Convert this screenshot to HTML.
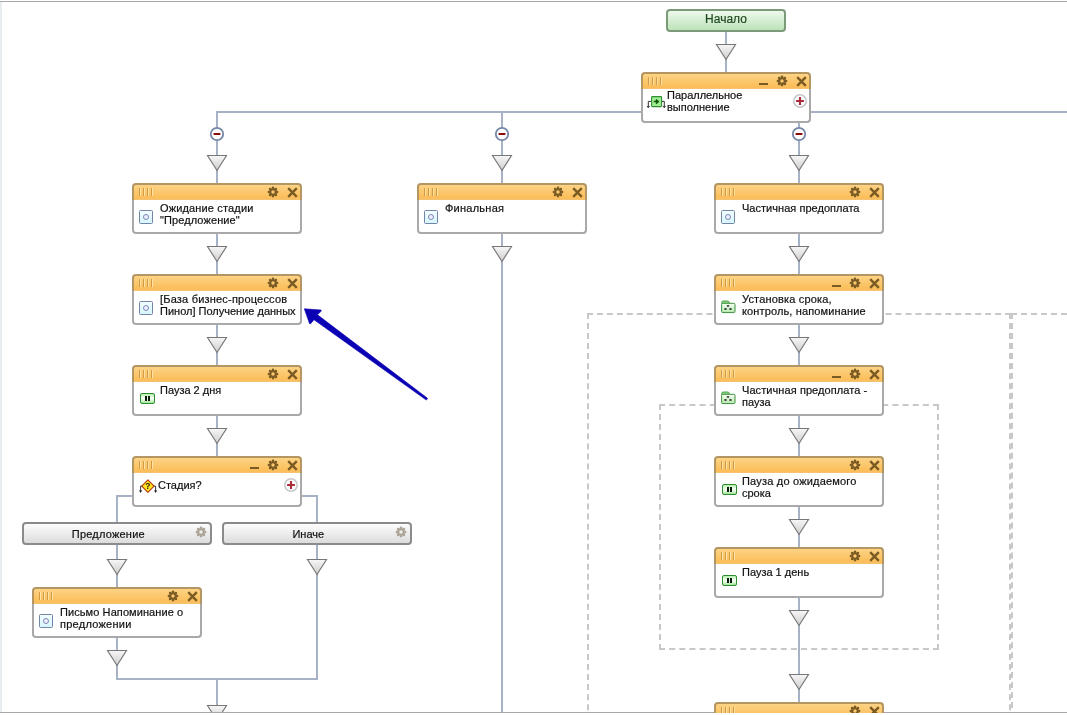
<!DOCTYPE html>
<html><head><meta charset="utf-8"><style>
*{margin:0;padding:0;box-sizing:border-box}
html,body{width:1067px;height:715px;overflow:hidden;background:#fff;position:relative;font-family:"Liberation Sans",sans-serif}
#topline{position:absolute;left:0;top:1px;width:1067px;height:1px;background:#a9a7ab}
#wrap{position:absolute;left:0;top:0;width:1067px;height:713px;overflow:hidden}
#botline{position:absolute;left:0;top:712px;width:1067px;height:1px;background:#a9a7ab;z-index:5}
#start{position:absolute;left:666px;top:9px;width:120px;height:23px;border:2px solid #7b9a78;border-radius:4px;background:linear-gradient(#eef9ec,#bde3b9);color:#1f4a1f;font-size:12px;text-align:center;line-height:17px;will-change:transform;-webkit-text-stroke:0.2px #1f4a1f}
#leftstrip{position:absolute;left:0;top:2px;width:2px;height:710px;background:#e8edf0}
.vl{position:absolute;width:2px;background:#a8b2c7}
.hl{position:absolute;height:2px;background:#a8b2c7}
.tri{position:absolute;overflow:visible}
.ic{position:absolute;overflow:visible}
.blk{position:absolute;z-index:10}
.blk .hdr{position:absolute;left:-1px;top:-1px;width:170px;height:17px;border:2px solid #b49663;border-bottom:none;border-radius:4px 4px 0 0;background:linear-gradient(#fdd385,#fbbd58 88%,#f3c47a)}
.blk .body{position:absolute;left:-1px;top:16px;width:170px;height:34px;border:2px solid #a9a9a9;border-top:none;border-radius:0 0 4px 4px;background:#fff}
.grip{position:absolute;top:4px;width:1px;height:8px;background:#d19a45;box-shadow:1px 0 0 #ffe2a4}
.minz{position:absolute;left:117px;top:10px;width:9px;height:2px;background:#7b5b24}
.iact{position:absolute;left:6px;top:26px;width:14px;height:14px;border:1px solid #7384a6;background:linear-gradient(#f2fdff,#d6f6fd);border-radius:1.5px}
.iact div{position:absolute;left:3px;top:3px;width:6px;height:6px;border:1px solid #8088b4;border-radius:50%;background:#eef0ff}
.ipause{position:absolute;left:7px;top:27px;width:15px;height:11px;border:1px solid #2f8c2f;border-radius:2px;background:linear-gradient(#b4eeac,#f6fff4 45%,#e6fae2 65%,#9ee596)}
.ipause i,.ipause b{position:absolute;top:2px;width:2px;height:5px;background:#0a1a0a}
.ipause i{left:4px} .ipause b{left:7px}
.txt{position:absolute;will-change:transform;-webkit-text-stroke:0.2px #111;font-size:11px;line-height:12px;color:#111;white-space:nowrap}
.btn{position:absolute;width:190px;height:23px;border:2px solid #8b8b8b;border-radius:4px;background:linear-gradient(#fdfdfd,#dcdcdc);font-size:11px;color:#111}
.btn span{position:absolute;will-change:transform;-webkit-text-stroke:0.2px #111;left:0;width:168.6px;top:4px;text-align:center;line-height:12px}
</style></head><body>
<svg width="0" height="0" style="position:absolute"><defs><linearGradient id="tg" x1="0" y1="0" x2="0" y2="1"><stop offset="0" stop-color="#f7f7f7"/><stop offset="1" stop-color="#cdcdcd"/></linearGradient></defs></svg>
<div id="wrap"><div id="start">Начало</div><div id="topline"></div><div id="botline"></div><div id="leftstrip"></div><svg class="ic" style="left:0;top:0" width="1067" height="715"><path fill="#c8c8c8" d="M587.00 313h6v2h-6zM596.95 313h6v2h-6zM606.90 313h6v2h-6zM616.86 313h6v2h-6zM626.81 313h6v2h-6zM636.76 313h6v2h-6zM646.71 313h6v2h-6zM656.67 313h6v2h-6zM666.62 313h6v2h-6zM676.57 313h6v2h-6zM686.52 313h6v2h-6zM696.48 313h6v2h-6zM706.43 313h6v2h-6zM716.38 313h6v2h-6zM726.33 313h6v2h-6zM736.29 313h6v2h-6zM746.24 313h6v2h-6zM756.19 313h6v2h-6zM766.14 313h6v2h-6zM776.10 313h6v2h-6zM786.05 313h6v2h-6zM796.00 313h6v2h-6zM805.95 313h6v2h-6zM815.90 313h6v2h-6zM825.86 313h6v2h-6zM835.81 313h6v2h-6zM845.76 313h6v2h-6zM855.71 313h6v2h-6zM865.67 313h6v2h-6zM875.62 313h6v2h-6zM885.57 313h6v2h-6zM895.52 313h6v2h-6zM905.48 313h6v2h-6zM915.43 313h6v2h-6zM925.38 313h6v2h-6zM935.33 313h6v2h-6zM945.29 313h6v2h-6zM955.24 313h6v2h-6zM965.19 313h6v2h-6zM975.14 313h6v2h-6zM985.10 313h6v2h-6zM995.05 313h6v2h-6zM1005.00 313h6v2h-6zM587 313.00h2v6h-2zM587 323.03h2v6h-2zM587 333.06h2v6h-2zM587 343.09h2v6h-2zM587 353.12h2v6h-2zM587 363.15h2v6h-2zM587 373.18h2v6h-2zM587 383.21h2v6h-2zM587 393.24h2v6h-2zM587 403.27h2v6h-2zM587 413.30h2v6h-2zM587 423.33h2v6h-2zM587 433.36h2v6h-2zM587 443.39h2v6h-2zM587 453.42h2v6h-2zM587 463.45h2v6h-2zM587 473.48h2v6h-2zM587 483.51h2v6h-2zM587 493.54h2v6h-2zM587 503.57h2v6h-2zM587 513.60h2v6h-2zM587 523.63h2v6h-2zM587 533.66h2v6h-2zM587 543.69h2v6h-2zM587 553.72h2v6h-2zM587 563.75h2v6h-2zM587 573.78h2v6h-2zM587 583.81h2v6h-2zM587 593.84h2v6h-2zM587 603.87h2v6h-2zM587 613.90h2v6h-2zM587 623.93h2v6h-2zM587 633.96h2v6h-2zM587 643.99h2v6h-2zM587 654.02h2v6h-2zM587 664.05h2v6h-2zM587 674.08h2v6h-2zM587 684.11h2v6h-2zM587 694.14h2v6h-2zM587 704.17h2v6h-2zM587 714.20h2v6h-2zM1009 313.00h2v6h-2zM1009 323.03h2v6h-2zM1009 333.06h2v6h-2zM1009 343.09h2v6h-2zM1009 353.12h2v6h-2zM1009 363.15h2v6h-2zM1009 373.18h2v6h-2zM1009 383.21h2v6h-2zM1009 393.24h2v6h-2zM1009 403.27h2v6h-2zM1009 413.30h2v6h-2zM1009 423.33h2v6h-2zM1009 433.36h2v6h-2zM1009 443.39h2v6h-2zM1009 453.42h2v6h-2zM1009 463.45h2v6h-2zM1009 473.48h2v6h-2zM1009 483.51h2v6h-2zM1009 493.54h2v6h-2zM1009 503.57h2v6h-2zM1009 513.60h2v6h-2zM1009 523.63h2v6h-2zM1009 533.66h2v6h-2zM1009 543.69h2v6h-2zM1009 553.72h2v6h-2zM1009 563.75h2v6h-2zM1009 573.78h2v6h-2zM1009 583.81h2v6h-2zM1009 593.84h2v6h-2zM1009 603.87h2v6h-2zM1009 613.90h2v6h-2zM1009 623.93h2v6h-2zM1009 633.96h2v6h-2zM1009 643.99h2v6h-2zM1009 654.02h2v6h-2zM1009 664.05h2v6h-2zM1009 674.08h2v6h-2zM1009 684.11h2v6h-2zM1009 694.14h2v6h-2zM1009 704.17h2v6h-2zM1009 714.20h2v6h-2zM1011 313.00h2v6h-2zM1011 322.98h2v6h-2zM1011 332.95h2v6h-2zM1011 342.93h2v6h-2zM1011 352.90h2v6h-2zM1011 362.88h2v6h-2zM1011 372.85h2v6h-2zM1011 382.82h2v6h-2zM1011 392.80h2v6h-2zM1011 402.77h2v6h-2zM1011 412.75h2v6h-2zM1011 422.73h2v6h-2zM1011 432.70h2v6h-2zM1011 442.67h2v6h-2zM1011 452.65h2v6h-2zM1011 462.62h2v6h-2zM1011 472.60h2v6h-2zM1011 482.57h2v6h-2zM1011 492.55h2v6h-2zM1011 502.52h2v6h-2zM1011 512.50h2v6h-2zM1011 522.48h2v6h-2zM1011 532.45h2v6h-2zM1011 542.42h2v6h-2zM1011 552.40h2v6h-2zM1011 562.38h2v6h-2zM1011 572.35h2v6h-2zM1011 582.33h2v6h-2zM1011 592.30h2v6h-2zM1011 602.27h2v6h-2zM1011 612.25h2v6h-2zM1011 622.22h2v6h-2zM1011 632.20h2v6h-2zM1011 642.17h2v6h-2zM1011 652.15h2v6h-2zM1011 662.12h2v6h-2zM1011 672.10h2v6h-2zM1011 682.08h2v6h-2zM1011 692.05h2v6h-2zM1011 702.02h2v6h-2zM1011 712.00h2v6h-2zM1011 313h6v2h-6zM1021 313h6v2h-6zM1031 313h6v2h-6zM1041 313h6v2h-6zM1051 313h6v2h-6zM1061 313h6v2h-6zM659.00 404h6v2h-6zM669.15 404h6v2h-6zM679.30 404h6v2h-6zM689.44 404h6v2h-6zM699.59 404h6v2h-6zM709.74 404h6v2h-6zM719.89 404h6v2h-6zM730.04 404h6v2h-6zM740.19 404h6v2h-6zM750.33 404h6v2h-6zM760.48 404h6v2h-6zM770.63 404h6v2h-6zM780.78 404h6v2h-6zM790.93 404h6v2h-6zM801.07 404h6v2h-6zM811.22 404h6v2h-6zM821.37 404h6v2h-6zM831.52 404h6v2h-6zM841.67 404h6v2h-6zM851.81 404h6v2h-6zM861.96 404h6v2h-6zM872.11 404h6v2h-6zM882.26 404h6v2h-6zM892.41 404h6v2h-6zM902.56 404h6v2h-6zM912.70 404h6v2h-6zM922.85 404h6v2h-6zM933.00 404h6v2h-6zM659.00 648h6v2h-6zM669.15 648h6v2h-6zM679.30 648h6v2h-6zM689.44 648h6v2h-6zM699.59 648h6v2h-6zM709.74 648h6v2h-6zM719.89 648h6v2h-6zM730.04 648h6v2h-6zM740.19 648h6v2h-6zM750.33 648h6v2h-6zM760.48 648h6v2h-6zM770.63 648h6v2h-6zM780.78 648h6v2h-6zM790.93 648h6v2h-6zM801.07 648h6v2h-6zM811.22 648h6v2h-6zM821.37 648h6v2h-6zM831.52 648h6v2h-6zM841.67 648h6v2h-6zM851.81 648h6v2h-6zM861.96 648h6v2h-6zM872.11 648h6v2h-6zM882.26 648h6v2h-6zM892.41 648h6v2h-6zM902.56 648h6v2h-6zM912.70 648h6v2h-6zM922.85 648h6v2h-6zM933.00 648h6v2h-6zM659 404.00h2v6h-2zM659 414.00h2v6h-2zM659 424.00h2v6h-2zM659 434.00h2v6h-2zM659 444.00h2v6h-2zM659 454.00h2v6h-2zM659 464.00h2v6h-2zM659 474.00h2v6h-2zM659 484.00h2v6h-2zM659 494.00h2v6h-2zM659 504.00h2v6h-2zM659 514.00h2v6h-2zM659 524.00h2v6h-2zM659 534.00h2v6h-2zM659 544.00h2v6h-2zM659 554.00h2v6h-2zM659 564.00h2v6h-2zM659 574.00h2v6h-2zM659 584.00h2v6h-2zM659 594.00h2v6h-2zM659 604.00h2v6h-2zM659 614.00h2v6h-2zM659 624.00h2v6h-2zM659 634.00h2v6h-2zM659 644.00h2v6h-2zM937 404.00h2v6h-2zM937 414.00h2v6h-2zM937 424.00h2v6h-2zM937 434.00h2v6h-2zM937 444.00h2v6h-2zM937 454.00h2v6h-2zM937 464.00h2v6h-2zM937 474.00h2v6h-2zM937 484.00h2v6h-2zM937 494.00h2v6h-2zM937 504.00h2v6h-2zM937 514.00h2v6h-2zM937 524.00h2v6h-2zM937 534.00h2v6h-2zM937 544.00h2v6h-2zM937 554.00h2v6h-2zM937 564.00h2v6h-2zM937 574.00h2v6h-2zM937 584.00h2v6h-2zM937 594.00h2v6h-2zM937 604.00h2v6h-2zM937 614.00h2v6h-2zM937 624.00h2v6h-2zM937 634.00h2v6h-2zM937 644.00h2v6h-2z"/></svg><div class="vl" style="left:725px;top:32px;height:41px"></div><div class="hl" style="top:111px;left:216px;width:851px"></div><div class="vl" style="left:216px;top:111px;height:73px"></div><div class="vl" style="left:501px;top:111px;height:73px"></div><div class="vl" style="left:798px;top:122px;height:62px"></div><div class="vl" style="left:216px;top:233px;height:42px"></div><div class="vl" style="left:216px;top:324px;height:42px"></div><div class="vl" style="left:216px;top:415px;height:42px"></div><div class="hl" style="top:495px;left:116px;width:17px"></div><div class="hl" style="top:495px;left:301px;width:17px"></div><div class="vl" style="left:116px;top:495px;height:28px"></div><div class="vl" style="left:316px;top:495px;height:28px"></div><div class="vl" style="left:116px;top:544px;height:44px"></div><div class="vl" style="left:116px;top:636px;height:43px"></div><div class="vl" style="left:316px;top:544px;height:135px"></div><div class="hl" style="top:678px;left:116px;width:202px"></div><div class="vl" style="left:216px;top:679px;height:33px"></div><div class="vl" style="left:501px;top:233px;height:479px"></div><div class="vl" style="left:798px;top:233px;height:42px"></div><div class="vl" style="left:798px;top:324px;height:42px"></div><div class="vl" style="left:798px;top:415px;height:42px"></div><div class="vl" style="left:798px;top:506px;height:42px"></div><div class="vl" style="left:798px;top:597px;height:106px"></div><svg class="tri" style="left:715px;top:43px" width="22" height="18" viewBox="0 0 22 18"><path d="M1.5 1.5 L20.5 1.5 L11 16.5 Z" fill="url(#tg)" stroke="#777" stroke-width="1.15" stroke-linejoin="miter"/></svg><svg class="tri" style="left:206px;top:154px" width="22" height="18" viewBox="0 0 22 18"><path d="M1.5 1.5 L20.5 1.5 L11 16.5 Z" fill="url(#tg)" stroke="#777" stroke-width="1.15" stroke-linejoin="miter"/></svg><svg class="tri" style="left:491px;top:154px" width="22" height="18" viewBox="0 0 22 18"><path d="M1.5 1.5 L20.5 1.5 L11 16.5 Z" fill="url(#tg)" stroke="#777" stroke-width="1.15" stroke-linejoin="miter"/></svg><svg class="tri" style="left:788px;top:154px" width="22" height="18" viewBox="0 0 22 18"><path d="M1.5 1.5 L20.5 1.5 L11 16.5 Z" fill="url(#tg)" stroke="#777" stroke-width="1.15" stroke-linejoin="miter"/></svg><svg class="tri" style="left:206px;top:245px" width="22" height="18" viewBox="0 0 22 18"><path d="M1.5 1.5 L20.5 1.5 L11 16.5 Z" fill="url(#tg)" stroke="#777" stroke-width="1.15" stroke-linejoin="miter"/></svg><svg class="tri" style="left:206px;top:336px" width="22" height="18" viewBox="0 0 22 18"><path d="M1.5 1.5 L20.5 1.5 L11 16.5 Z" fill="url(#tg)" stroke="#777" stroke-width="1.15" stroke-linejoin="miter"/></svg><svg class="tri" style="left:206px;top:427px" width="22" height="18" viewBox="0 0 22 18"><path d="M1.5 1.5 L20.5 1.5 L11 16.5 Z" fill="url(#tg)" stroke="#777" stroke-width="1.15" stroke-linejoin="miter"/></svg><svg class="tri" style="left:106px;top:558px" width="22" height="18" viewBox="0 0 22 18"><path d="M1.5 1.5 L20.5 1.5 L11 16.5 Z" fill="url(#tg)" stroke="#777" stroke-width="1.15" stroke-linejoin="miter"/></svg><svg class="tri" style="left:306px;top:558px" width="22" height="18" viewBox="0 0 22 18"><path d="M1.5 1.5 L20.5 1.5 L11 16.5 Z" fill="url(#tg)" stroke="#777" stroke-width="1.15" stroke-linejoin="miter"/></svg><svg class="tri" style="left:106px;top:649px" width="22" height="18" viewBox="0 0 22 18"><path d="M1.5 1.5 L20.5 1.5 L11 16.5 Z" fill="url(#tg)" stroke="#777" stroke-width="1.15" stroke-linejoin="miter"/></svg><svg class="tri" style="left:206px;top:704px" width="22" height="18" viewBox="0 0 22 18"><path d="M1.5 1.5 L20.5 1.5 L11 16.5 Z" fill="url(#tg)" stroke="#777" stroke-width="1.15" stroke-linejoin="miter"/></svg><svg class="tri" style="left:491px;top:245px" width="22" height="18" viewBox="0 0 22 18"><path d="M1.5 1.5 L20.5 1.5 L11 16.5 Z" fill="url(#tg)" stroke="#777" stroke-width="1.15" stroke-linejoin="miter"/></svg><svg class="tri" style="left:788px;top:245px" width="22" height="18" viewBox="0 0 22 18"><path d="M1.5 1.5 L20.5 1.5 L11 16.5 Z" fill="url(#tg)" stroke="#777" stroke-width="1.15" stroke-linejoin="miter"/></svg><svg class="tri" style="left:788px;top:336px" width="22" height="18" viewBox="0 0 22 18"><path d="M1.5 1.5 L20.5 1.5 L11 16.5 Z" fill="url(#tg)" stroke="#777" stroke-width="1.15" stroke-linejoin="miter"/></svg><svg class="tri" style="left:788px;top:427px" width="22" height="18" viewBox="0 0 22 18"><path d="M1.5 1.5 L20.5 1.5 L11 16.5 Z" fill="url(#tg)" stroke="#777" stroke-width="1.15" stroke-linejoin="miter"/></svg><svg class="tri" style="left:788px;top:518px" width="22" height="18" viewBox="0 0 22 18"><path d="M1.5 1.5 L20.5 1.5 L11 16.5 Z" fill="url(#tg)" stroke="#777" stroke-width="1.15" stroke-linejoin="miter"/></svg><svg class="tri" style="left:788px;top:609px" width="22" height="18" viewBox="0 0 22 18"><path d="M1.5 1.5 L20.5 1.5 L11 16.5 Z" fill="url(#tg)" stroke="#777" stroke-width="1.15" stroke-linejoin="miter"/></svg><svg class="tri" style="left:788px;top:673px" width="22" height="18" viewBox="0 0 22 18"><path d="M1.5 1.5 L20.5 1.5 L11 16.5 Z" fill="url(#tg)" stroke="#777" stroke-width="1.15" stroke-linejoin="miter"/></svg><svg class="ic" style="left:209px;top:126px" width="16" height="16" viewBox="0 0 16 16"><circle cx="8" cy="8" r="6.2" fill="#fff" stroke="#7787a8" stroke-width="1.8"/><rect x="4.6" y="7" width="6.8" height="2" fill="#8a0a0a"/></svg><svg class="ic" style="left:494px;top:126px" width="16" height="16" viewBox="0 0 16 16"><circle cx="8" cy="8" r="6.2" fill="#fff" stroke="#7787a8" stroke-width="1.8"/><rect x="4.6" y="7" width="6.8" height="2" fill="#8a0a0a"/></svg><svg class="ic" style="left:791px;top:126px" width="16" height="16" viewBox="0 0 16 16"><circle cx="8" cy="8" r="6.2" fill="#fff" stroke="#7787a8" stroke-width="1.8"/><rect x="4.6" y="7" width="6.8" height="2" fill="#8a0a0a"/></svg><div class="blk" style="left:642px;top:73px;width:169px;height:49px"><div class="hdr"></div><div class="body"></div><div class="grip" style="left:6px"></div><div class="grip" style="left:10px"></div><div class="grip" style="left:14px"></div><div class="grip" style="left:18px"></div><div class="minz"></div><svg class="ic" style="left:134px;top:2px" width="12" height="12" viewBox="0 0 12 12"><g fill="#7b5b24"><circle cx="6" cy="6" r="3.8"/><circle cx="10.10" cy="6.00" r="1.3"/><circle cx="8.90" cy="8.90" r="1.3"/><circle cx="6.00" cy="10.10" r="1.3"/><circle cx="3.10" cy="8.90" r="1.3"/><circle cx="1.90" cy="6.00" r="1.3"/><circle cx="3.10" cy="3.10" r="1.3"/><circle cx="6.00" cy="1.90" r="1.3"/><circle cx="8.90" cy="3.10" r="1.3"/></g><circle cx="6" cy="6" r="1.7" fill="#fdc86e"/></svg><svg class="ic" style="left:154px;top:3px" width="11" height="11" viewBox="0 0 11 11"><path d="M1.2 1.2 L9.8 9.8 M9.8 1.2 L1.2 9.8" stroke="#7b5b24" stroke-width="2.4"/></svg><svg class="ic" style="left:150px;top:20px" width="16" height="16" viewBox="0 0 16 16"><circle cx="8" cy="8" r="6.2" fill="#fcfeff" stroke="#c6c6c6" stroke-width="1.5"/><path d="M4.1 8 H11.9 M8 4.1 V11.9" stroke="#ab2c38" stroke-width="2.1"/></svg><svg class="ic" style="left:4px;top:21px" width="22" height="16" viewBox="0 0 22 16"><path d="M5.2 7.4 H2.3 V13 M16 7.4 H18.3 V13" fill="none" stroke="#333" stroke-width="1"/><path d="M1.1 12 L2.3 13.8 L3.5 12 M17.1 12 L18.3 13.8 L19.5 12" fill="none" stroke="#333" stroke-width="1"/><rect x="5.6" y="2.6" width="10" height="10" rx="0.8" fill="#a2ec92" stroke="#2f8f2f" stroke-width="1.1"/><path d="M7.8 7.6 H12 M10 5.6 L12.2 7.6 L10 9.6" fill="none" stroke="#0a5a0a" stroke-width="1.5"/></svg><div class="txt" style="left:25px;top:16.3px">Параллельное<br>выполнение</div></div><div class="blk" style="left:133px;top:184px;width:169px;height:49px"><div class="hdr"></div><div class="body"></div><div class="grip" style="left:6px"></div><div class="grip" style="left:10px"></div><div class="grip" style="left:14px"></div><div class="grip" style="left:18px"></div><svg class="ic" style="left:134px;top:2px" width="12" height="12" viewBox="0 0 12 12"><g fill="#7b5b24"><circle cx="6" cy="6" r="3.8"/><circle cx="10.10" cy="6.00" r="1.3"/><circle cx="8.90" cy="8.90" r="1.3"/><circle cx="6.00" cy="10.10" r="1.3"/><circle cx="3.10" cy="8.90" r="1.3"/><circle cx="1.90" cy="6.00" r="1.3"/><circle cx="3.10" cy="3.10" r="1.3"/><circle cx="6.00" cy="1.90" r="1.3"/><circle cx="8.90" cy="3.10" r="1.3"/></g><circle cx="6" cy="6" r="1.7" fill="#fdc86e"/></svg><svg class="ic" style="left:154px;top:3px" width="11" height="11" viewBox="0 0 11 11"><path d="M1.2 1.2 L9.8 9.8 M9.8 1.2 L1.2 9.8" stroke="#7b5b24" stroke-width="2.4"/></svg><div class="iact"><div></div></div><div class="txt" style="left:27px;top:18.3px"><span style="letter-spacing:0.15px">Ожидание стадии</span><br><span style="letter-spacing:0.1px">"Предложение"</span></div></div><div class="blk" style="left:133px;top:275px;width:169px;height:49px"><div class="hdr"></div><div class="body"></div><div class="grip" style="left:6px"></div><div class="grip" style="left:10px"></div><div class="grip" style="left:14px"></div><div class="grip" style="left:18px"></div><svg class="ic" style="left:134px;top:2px" width="12" height="12" viewBox="0 0 12 12"><g fill="#7b5b24"><circle cx="6" cy="6" r="3.8"/><circle cx="10.10" cy="6.00" r="1.3"/><circle cx="8.90" cy="8.90" r="1.3"/><circle cx="6.00" cy="10.10" r="1.3"/><circle cx="3.10" cy="8.90" r="1.3"/><circle cx="1.90" cy="6.00" r="1.3"/><circle cx="3.10" cy="3.10" r="1.3"/><circle cx="6.00" cy="1.90" r="1.3"/><circle cx="8.90" cy="3.10" r="1.3"/></g><circle cx="6" cy="6" r="1.7" fill="#fdc86e"/></svg><svg class="ic" style="left:154px;top:3px" width="11" height="11" viewBox="0 0 11 11"><path d="M1.2 1.2 L9.8 9.8 M9.8 1.2 L1.2 9.8" stroke="#7b5b24" stroke-width="2.4"/></svg><div class="iact"><div></div></div><div class="txt" style="left:27px;top:18.3px"><span style="letter-spacing:0.2px">[База бизнес-процессов</span><br>Пинол] Получение данных</div></div><div class="blk" style="left:133px;top:366px;width:169px;height:49px"><div class="hdr"></div><div class="body"></div><div class="grip" style="left:6px"></div><div class="grip" style="left:10px"></div><div class="grip" style="left:14px"></div><div class="grip" style="left:18px"></div><svg class="ic" style="left:134px;top:2px" width="12" height="12" viewBox="0 0 12 12"><g fill="#7b5b24"><circle cx="6" cy="6" r="3.8"/><circle cx="10.10" cy="6.00" r="1.3"/><circle cx="8.90" cy="8.90" r="1.3"/><circle cx="6.00" cy="10.10" r="1.3"/><circle cx="3.10" cy="8.90" r="1.3"/><circle cx="1.90" cy="6.00" r="1.3"/><circle cx="3.10" cy="3.10" r="1.3"/><circle cx="6.00" cy="1.90" r="1.3"/><circle cx="8.90" cy="3.10" r="1.3"/></g><circle cx="6" cy="6" r="1.7" fill="#fdc86e"/></svg><svg class="ic" style="left:154px;top:3px" width="11" height="11" viewBox="0 0 11 11"><path d="M1.2 1.2 L9.8 9.8 M9.8 1.2 L1.2 9.8" stroke="#7b5b24" stroke-width="2.4"/></svg><div class="ipause"><i></i><b></b></div><div class="txt" style="left:27px;top:18.3px">Пауза 2 дня</div></div><div class="blk" style="left:133px;top:457px;width:169px;height:49px"><div class="hdr"></div><div class="body"></div><div class="grip" style="left:6px"></div><div class="grip" style="left:10px"></div><div class="grip" style="left:14px"></div><div class="grip" style="left:18px"></div><div class="minz"></div><svg class="ic" style="left:134px;top:2px" width="12" height="12" viewBox="0 0 12 12"><g fill="#7b5b24"><circle cx="6" cy="6" r="3.8"/><circle cx="10.10" cy="6.00" r="1.3"/><circle cx="8.90" cy="8.90" r="1.3"/><circle cx="6.00" cy="10.10" r="1.3"/><circle cx="3.10" cy="8.90" r="1.3"/><circle cx="1.90" cy="6.00" r="1.3"/><circle cx="3.10" cy="3.10" r="1.3"/><circle cx="6.00" cy="1.90" r="1.3"/><circle cx="8.90" cy="3.10" r="1.3"/></g><circle cx="6" cy="6" r="1.7" fill="#fdc86e"/></svg><svg class="ic" style="left:154px;top:3px" width="11" height="11" viewBox="0 0 11 11"><path d="M1.2 1.2 L9.8 9.8 M9.8 1.2 L1.2 9.8" stroke="#7b5b24" stroke-width="2.4"/></svg><svg class="ic" style="left:150px;top:20px" width="16" height="16" viewBox="0 0 16 16"><circle cx="8" cy="8" r="6.2" fill="#fcfeff" stroke="#c6c6c6" stroke-width="1.5"/><path d="M4.1 8 H11.9 M8 4.1 V11.9" stroke="#ab2c38" stroke-width="2.1"/></svg><svg class="ic" style="left:5px;top:21px" width="20" height="17" viewBox="0 0 20 17"><path d="M4.5 8.1 H2.6 V14 M15.5 8.1 H17.6 V14" fill="none" stroke="#222" stroke-width="0.9"/><path d="M1.5 12.6 L2.6 14.6 L3.7 12.6 Z M16.5 12.6 L17.6 14.6 L18.7 12.6 Z" fill="#222" stroke="#222" stroke-width="0.5"/><path d="M9.9 1.8 L16.1 8.1 L9.9 14.4 L3.7 8.1 Z" fill="#ffe21e" stroke="#b03a10" stroke-width="1.1" stroke-linejoin="round"/><text x="9.9" y="11.4" font-family="Liberation Sans" font-size="8.5" font-weight="bold" text-anchor="middle" fill="#1a1a1a">?</text></svg><div class="txt" style="left:25.4px;top:22.2px">Стадия?</div></div><div class="blk" style="left:33px;top:588px;width:169px;height:49px"><div class="hdr"></div><div class="body"></div><div class="grip" style="left:6px"></div><div class="grip" style="left:10px"></div><div class="grip" style="left:14px"></div><div class="grip" style="left:18px"></div><svg class="ic" style="left:134px;top:2px" width="12" height="12" viewBox="0 0 12 12"><g fill="#7b5b24"><circle cx="6" cy="6" r="3.8"/><circle cx="10.10" cy="6.00" r="1.3"/><circle cx="8.90" cy="8.90" r="1.3"/><circle cx="6.00" cy="10.10" r="1.3"/><circle cx="3.10" cy="8.90" r="1.3"/><circle cx="1.90" cy="6.00" r="1.3"/><circle cx="3.10" cy="3.10" r="1.3"/><circle cx="6.00" cy="1.90" r="1.3"/><circle cx="8.90" cy="3.10" r="1.3"/></g><circle cx="6" cy="6" r="1.7" fill="#fdc86e"/></svg><svg class="ic" style="left:154px;top:3px" width="11" height="11" viewBox="0 0 11 11"><path d="M1.2 1.2 L9.8 9.8 M9.8 1.2 L1.2 9.8" stroke="#7b5b24" stroke-width="2.4"/></svg><div class="iact"><div></div></div><div class="txt" style="left:27px;top:18.3px"><span style="letter-spacing:0.084px">Письмо Напоминание о</span><br><span style="letter-spacing:0.26px">предложении</span></div></div><div class="blk" style="left:418px;top:184px;width:169px;height:49px"><div class="hdr"></div><div class="body"></div><div class="grip" style="left:6px"></div><div class="grip" style="left:10px"></div><div class="grip" style="left:14px"></div><div class="grip" style="left:18px"></div><svg class="ic" style="left:134px;top:2px" width="12" height="12" viewBox="0 0 12 12"><g fill="#7b5b24"><circle cx="6" cy="6" r="3.8"/><circle cx="10.10" cy="6.00" r="1.3"/><circle cx="8.90" cy="8.90" r="1.3"/><circle cx="6.00" cy="10.10" r="1.3"/><circle cx="3.10" cy="8.90" r="1.3"/><circle cx="1.90" cy="6.00" r="1.3"/><circle cx="3.10" cy="3.10" r="1.3"/><circle cx="6.00" cy="1.90" r="1.3"/><circle cx="8.90" cy="3.10" r="1.3"/></g><circle cx="6" cy="6" r="1.7" fill="#fdc86e"/></svg><svg class="ic" style="left:154px;top:3px" width="11" height="11" viewBox="0 0 11 11"><path d="M1.2 1.2 L9.8 9.8 M9.8 1.2 L1.2 9.8" stroke="#7b5b24" stroke-width="2.4"/></svg><div class="iact"><div></div></div><div class="txt" style="left:27px;top:18.3px"><span style="letter-spacing:0.25px">Финальная</span></div></div><div class="blk" style="left:715px;top:184px;width:169px;height:49px"><div class="hdr"></div><div class="body"></div><div class="grip" style="left:6px"></div><div class="grip" style="left:10px"></div><div class="grip" style="left:14px"></div><div class="grip" style="left:18px"></div><svg class="ic" style="left:134px;top:2px" width="12" height="12" viewBox="0 0 12 12"><g fill="#7b5b24"><circle cx="6" cy="6" r="3.8"/><circle cx="10.10" cy="6.00" r="1.3"/><circle cx="8.90" cy="8.90" r="1.3"/><circle cx="6.00" cy="10.10" r="1.3"/><circle cx="3.10" cy="8.90" r="1.3"/><circle cx="1.90" cy="6.00" r="1.3"/><circle cx="3.10" cy="3.10" r="1.3"/><circle cx="6.00" cy="1.90" r="1.3"/><circle cx="8.90" cy="3.10" r="1.3"/></g><circle cx="6" cy="6" r="1.7" fill="#fdc86e"/></svg><svg class="ic" style="left:154px;top:3px" width="11" height="11" viewBox="0 0 11 11"><path d="M1.2 1.2 L9.8 9.8 M9.8 1.2 L1.2 9.8" stroke="#7b5b24" stroke-width="2.4"/></svg><div class="iact"><div></div></div><div class="txt" style="left:27px;top:18.3px"><span style="letter-spacing:0.032px">Частичная предоплата</span></div></div><div class="blk" style="left:715px;top:275px;width:169px;height:49px"><div class="hdr"></div><div class="body"></div><div class="grip" style="left:6px"></div><div class="grip" style="left:10px"></div><div class="grip" style="left:14px"></div><div class="grip" style="left:18px"></div><div class="minz"></div><svg class="ic" style="left:134px;top:2px" width="12" height="12" viewBox="0 0 12 12"><g fill="#7b5b24"><circle cx="6" cy="6" r="3.8"/><circle cx="10.10" cy="6.00" r="1.3"/><circle cx="8.90" cy="8.90" r="1.3"/><circle cx="6.00" cy="10.10" r="1.3"/><circle cx="3.10" cy="8.90" r="1.3"/><circle cx="1.90" cy="6.00" r="1.3"/><circle cx="3.10" cy="3.10" r="1.3"/><circle cx="6.00" cy="1.90" r="1.3"/><circle cx="8.90" cy="3.10" r="1.3"/></g><circle cx="6" cy="6" r="1.7" fill="#fdc86e"/></svg><svg class="ic" style="left:154px;top:3px" width="11" height="11" viewBox="0 0 11 11"><path d="M1.2 1.2 L9.8 9.8 M9.8 1.2 L1.2 9.8" stroke="#7b5b24" stroke-width="2.4"/></svg><svg class="ic" style="left:6px;top:25px" width="16" height="15" viewBox="0 0 16 15"><defs><linearGradient id="fg" x1="0" y1="0" x2="0" y2="1"><stop offset="0" stop-color="#f8fff6"/><stop offset="1" stop-color="#b2eaa8"/></linearGradient></defs><path d="M0.8 4 V2.2 Q0.8 1 2 1 H7 Q7.8 1 8.2 2.2 L8.6 3.4" fill="#86da7e" stroke="#4a9a4a" stroke-width="0.9"/><rect x="0.6" y="3.3" width="13.4" height="9.3" rx="1.2" fill="url(#fg)" stroke="#3f8c3f" stroke-width="1"/><rect x="5.8" y="4.9" width="2.4" height="1.9" rx="0.6" fill="#444"/><rect x="3.3" y="8" width="2.4" height="1.9" rx="0.6" fill="#444"/><rect x="8.3" y="8" width="2.4" height="1.9" rx="0.6" fill="#444"/></svg><div class="txt" style="left:27px;top:18.3px"><span style="letter-spacing:0.173px">Установка срока,</span><br><span style="letter-spacing:0.13px">контроль, напоминание</span></div></div><div class="blk" style="left:715px;top:366px;width:169px;height:49px"><div class="hdr"></div><div class="body"></div><div class="grip" style="left:6px"></div><div class="grip" style="left:10px"></div><div class="grip" style="left:14px"></div><div class="grip" style="left:18px"></div><div class="minz"></div><svg class="ic" style="left:134px;top:2px" width="12" height="12" viewBox="0 0 12 12"><g fill="#7b5b24"><circle cx="6" cy="6" r="3.8"/><circle cx="10.10" cy="6.00" r="1.3"/><circle cx="8.90" cy="8.90" r="1.3"/><circle cx="6.00" cy="10.10" r="1.3"/><circle cx="3.10" cy="8.90" r="1.3"/><circle cx="1.90" cy="6.00" r="1.3"/><circle cx="3.10" cy="3.10" r="1.3"/><circle cx="6.00" cy="1.90" r="1.3"/><circle cx="8.90" cy="3.10" r="1.3"/></g><circle cx="6" cy="6" r="1.7" fill="#fdc86e"/></svg><svg class="ic" style="left:154px;top:3px" width="11" height="11" viewBox="0 0 11 11"><path d="M1.2 1.2 L9.8 9.8 M9.8 1.2 L1.2 9.8" stroke="#7b5b24" stroke-width="2.4"/></svg><svg class="ic" style="left:6px;top:25px" width="16" height="15" viewBox="0 0 16 15"><defs><linearGradient id="fg" x1="0" y1="0" x2="0" y2="1"><stop offset="0" stop-color="#f8fff6"/><stop offset="1" stop-color="#b2eaa8"/></linearGradient></defs><path d="M0.8 4 V2.2 Q0.8 1 2 1 H7 Q7.8 1 8.2 2.2 L8.6 3.4" fill="#86da7e" stroke="#4a9a4a" stroke-width="0.9"/><rect x="0.6" y="3.3" width="13.4" height="9.3" rx="1.2" fill="url(#fg)" stroke="#3f8c3f" stroke-width="1"/><rect x="5.8" y="4.9" width="2.4" height="1.9" rx="0.6" fill="#444"/><rect x="3.3" y="8" width="2.4" height="1.9" rx="0.6" fill="#444"/><rect x="8.3" y="8" width="2.4" height="1.9" rx="0.6" fill="#444"/></svg><div class="txt" style="left:27px;top:18.3px"><span style="letter-spacing:0.081px">Частичная предоплата -</span><br>пауза</div></div><div class="blk" style="left:715px;top:457px;width:169px;height:49px"><div class="hdr"></div><div class="body"></div><div class="grip" style="left:6px"></div><div class="grip" style="left:10px"></div><div class="grip" style="left:14px"></div><div class="grip" style="left:18px"></div><svg class="ic" style="left:134px;top:2px" width="12" height="12" viewBox="0 0 12 12"><g fill="#7b5b24"><circle cx="6" cy="6" r="3.8"/><circle cx="10.10" cy="6.00" r="1.3"/><circle cx="8.90" cy="8.90" r="1.3"/><circle cx="6.00" cy="10.10" r="1.3"/><circle cx="3.10" cy="8.90" r="1.3"/><circle cx="1.90" cy="6.00" r="1.3"/><circle cx="3.10" cy="3.10" r="1.3"/><circle cx="6.00" cy="1.90" r="1.3"/><circle cx="8.90" cy="3.10" r="1.3"/></g><circle cx="6" cy="6" r="1.7" fill="#fdc86e"/></svg><svg class="ic" style="left:154px;top:3px" width="11" height="11" viewBox="0 0 11 11"><path d="M1.2 1.2 L9.8 9.8 M9.8 1.2 L1.2 9.8" stroke="#7b5b24" stroke-width="2.4"/></svg><div class="ipause"><i></i><b></b></div><div class="txt" style="left:27px;top:18.3px"><span style="letter-spacing:0.194px">Пауза до ожидаемого</span><br>срока</div></div><div class="blk" style="left:715px;top:548px;width:169px;height:49px"><div class="hdr"></div><div class="body"></div><div class="grip" style="left:6px"></div><div class="grip" style="left:10px"></div><div class="grip" style="left:14px"></div><div class="grip" style="left:18px"></div><svg class="ic" style="left:134px;top:2px" width="12" height="12" viewBox="0 0 12 12"><g fill="#7b5b24"><circle cx="6" cy="6" r="3.8"/><circle cx="10.10" cy="6.00" r="1.3"/><circle cx="8.90" cy="8.90" r="1.3"/><circle cx="6.00" cy="10.10" r="1.3"/><circle cx="3.10" cy="8.90" r="1.3"/><circle cx="1.90" cy="6.00" r="1.3"/><circle cx="3.10" cy="3.10" r="1.3"/><circle cx="6.00" cy="1.90" r="1.3"/><circle cx="8.90" cy="3.10" r="1.3"/></g><circle cx="6" cy="6" r="1.7" fill="#fdc86e"/></svg><svg class="ic" style="left:154px;top:3px" width="11" height="11" viewBox="0 0 11 11"><path d="M1.2 1.2 L9.8 9.8 M9.8 1.2 L1.2 9.8" stroke="#7b5b24" stroke-width="2.4"/></svg><div class="ipause"><i></i><b></b></div><div class="txt" style="left:27px;top:18.3px">Пауза 1 день</div></div><div class="blk" style="left:715px;top:703px;width:169px;height:49px"><div class="hdr"></div><div class="body"></div><div class="grip" style="left:6px"></div><div class="grip" style="left:10px"></div><div class="grip" style="left:14px"></div><div class="grip" style="left:18px"></div><svg class="ic" style="left:134px;top:2px" width="12" height="12" viewBox="0 0 12 12"><g fill="#7b5b24"><circle cx="6" cy="6" r="3.8"/><circle cx="10.10" cy="6.00" r="1.3"/><circle cx="8.90" cy="8.90" r="1.3"/><circle cx="6.00" cy="10.10" r="1.3"/><circle cx="3.10" cy="8.90" r="1.3"/><circle cx="1.90" cy="6.00" r="1.3"/><circle cx="3.10" cy="3.10" r="1.3"/><circle cx="6.00" cy="1.90" r="1.3"/><circle cx="8.90" cy="3.10" r="1.3"/></g><circle cx="6" cy="6" r="1.7" fill="#fdc86e"/></svg><svg class="ic" style="left:154px;top:3px" width="11" height="11" viewBox="0 0 11 11"><path d="M1.2 1.2 L9.8 9.8 M9.8 1.2 L1.2 9.8" stroke="#7b5b24" stroke-width="2.4"/></svg><div class="txt" style="left:27px;top:18.3px"></div></div><div class="btn" style="left:22px;top:522px"><span style="letter-spacing:0.22px">Предложение</span></div><svg class="ic" style="left:194.5px;top:526.4px" width="12" height="12" viewBox="0 0 12 12"><g fill="#aca497"><circle cx="6" cy="6" r="3.8"/><circle cx="10.10" cy="6.00" r="1.3"/><circle cx="8.90" cy="8.90" r="1.3"/><circle cx="6.00" cy="10.10" r="1.3"/><circle cx="3.10" cy="8.90" r="1.3"/><circle cx="1.90" cy="6.00" r="1.3"/><circle cx="3.10" cy="3.10" r="1.3"/><circle cx="6.00" cy="1.90" r="1.3"/><circle cx="8.90" cy="3.10" r="1.3"/></g><circle cx="6" cy="6" r="1.7" fill="#eeeeee"/></svg><div class="btn" style="left:222px;top:522px"><span style="letter-spacing:0px">Иначе</span></div><svg class="ic" style="left:394.5px;top:526.4px" width="12" height="12" viewBox="0 0 12 12"><g fill="#aca497"><circle cx="6" cy="6" r="3.8"/><circle cx="10.10" cy="6.00" r="1.3"/><circle cx="8.90" cy="8.90" r="1.3"/><circle cx="6.00" cy="10.10" r="1.3"/><circle cx="3.10" cy="8.90" r="1.3"/><circle cx="1.90" cy="6.00" r="1.3"/><circle cx="3.10" cy="3.10" r="1.3"/><circle cx="6.00" cy="1.90" r="1.3"/><circle cx="8.90" cy="3.10" r="1.3"/></g><circle cx="6" cy="6" r="1.7" fill="#eeeeee"/></svg><svg class="ic" style="left:0;top:0" width="1067" height="715"><path d="M304.3 308.8 L321 310 Q321.6 310.6 321 311.3 L317.5 314.8 L426.9 397.8 A1.1 1.1 0 0 1 425.6 399.6 L314 319.7 L310.6 323.8 Q310 324.2 309.5 323.6 Z" fill="#0a00b4" stroke="#0a00b4" stroke-width="0.6" stroke-linejoin="round"/></svg></div>
</body></html>
